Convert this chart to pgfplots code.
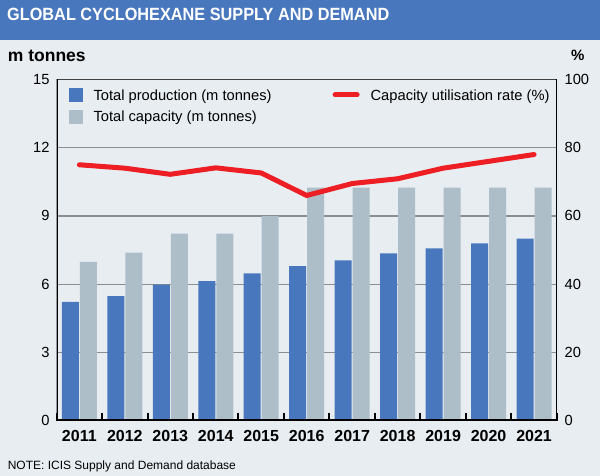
\documentclass[border=0pt]{standalone}
\usepackage{pgfplots}
\pgfplotsset{compat=1.18}
\usepackage{fontspec}
\setmainfont{Liberation Sans}
\definecolor{bgc}{RGB}{232,237,241}
\definecolor{titleblue}{RGB}{73,119,189}
\definecolor{barblue}{RGB}{73,119,189}
\definecolor{bargray}{RGB}{173,190,200}
\definecolor{linered}{RGB}{237,30,36}
\definecolor{gridc}{RGB}{138,142,146}
\begin{document}
\begin{tikzpicture}
\path[use as bounding box] (0pt,0pt) rectangle (600pt,476pt);
\fill[bgc] (0pt,0pt) rectangle (600pt,476pt);
\fill[titleblue] (0pt,436pt) rectangle (600pt,476pt);
\node[anchor=base west, text=white, inner sep=0pt] at (7pt,455pt)
  {\fontsize{17.7}{18}\selectfont\bfseries\scalebox{0.92}[1]{GLOBAL CYCLOHEXANE SUPPLY AND DEMAND}};
\node[anchor=base west, inner sep=0pt] at (7.7pt,414.3pt)
  {\fontsize{17.5}{18}\selectfont\bfseries m tonnes};
\node[anchor=base west, inner sep=0pt] at (571pt,415pt)
  {\fontsize{15}{16}\selectfont\bfseries \%};
\node[anchor=base west, inner sep=0pt] at (7.6pt,6.7pt)
  {\fontsize{12}{13}\selectfont NOTE: ICIS Supply and Demand database};

\begin{axis}[
  at={(56.6pt,55.4pt)}, anchor=south west,
  width=500.2pt, height=341.1pt, scale only axis,
  xmin=-0.5, xmax=10.5, ymin=0, ymax=15,
  axis line style={draw=none},
  xtick={-0.5,0.5,...,10.5},
  x tick label as interval,
  xticklabels={2011,2012,2013,2014,2015,2016,2017,2018,2019,2020,2021},
  xtick pos=bottom,
  xtick style={black, line width=2pt},
  major tick length=7.5pt,
  tick align=inside,
  xticklabel style={font=\fontsize{16}{16}\selectfont\bfseries, yshift=-6pt},
  ytick={0,3,...,15},
  ytick pos=left,
  ytick style={draw=none},
  yticklabel style={font=\fontsize{14.7}{15}\selectfont, xshift=-3.5pt},
  /pgf/number format/assume math mode=true,
  ymajorgrids, grid style={gridc, line width=1.2pt},
  legend cell align=left,
  legend columns=2,
  legend style={draw=none, fill=none, at={(0,1)}, anchor=north west,
    xshift=11.7pt, yshift=-7.9pt, inner sep=0pt,
    font=\fontsize{14.7}{15}\selectfont,
    nodes={inner sep=0pt, text height=12.6pt, text depth=2pt},
    row sep=7.2pt,
    /tikz/every odd column/.append style={column sep=11pt},
    /tikz/every even column/.append style={column sep=61pt}},
]
\addplot[ybar, bar width=17pt, bar shift=-9pt, fill=barblue, draw=none,
  legend image code/.code={\fill[barblue] (0pt,-7pt) rectangle (14pt,7pt);}]
  coordinates {(0,5.22) (1,5.47) (2,5.98) (3,6.13) (4,6.47) (5,6.79) (6,7.05) (7,7.35) (8,7.57) (9,7.79) (10,8.0)};
\addlegendentry{Total production (m tonnes)}
\addlegendimage{legend image code/.code={\draw[linered, line width=5pt, line cap=round] (2.5pt,0pt) -- (24.5pt,0pt);}}
\addlegendentry{Capacity utilisation rate (\%)}
\addplot[ybar, bar width=17pt, bar shift=9pt, fill=bargray, draw=none,
  legend image code/.code={\fill[bargray] (0pt,-7pt) rectangle (14pt,7pt);}]
  coordinates {(0,6.98) (1,7.39) (2,8.22) (3,8.22) (4,8.99) (5,10.25) (6,10.25) (7,10.25) (8,10.25) (9,10.25) (10,10.25)};
\addlegendentry{Total capacity (m tonnes)}
\end{axis}

\begin{axis}[
  at={(56.6pt,55.4pt)}, anchor=south west,
  width=500.2pt, height=341.1pt, scale only axis,
  xmin=-0.5, xmax=10.5, ymin=0, ymax=100,
  axis line style={draw=none},
  hide x axis,
  ytick={0,20,...,100},
  ytick pos=right,
  ytick style={draw=none},
  yticklabel style={font=\fontsize{14.7}{15}\selectfont, xshift=4.3pt},
  /pgf/number format/assume math mode=true,
]
\addplot[linered, line width=5pt, line cap=round, line join=round, mark=none]
  coordinates {(0,75.0) (1,74.0) (2,72.2) (3,74.1) (4,72.6) (5,66.0) (6,69.5) (7,70.9) (8,74.0) (9,76.0) (10,78.0)};
\draw[black!75, line width=1.4pt] (rel axis cs:0,1) -- (rel axis cs:1,1);
\draw[black, line width=2.5pt] (rel axis cs:0,0) -- (rel axis cs:1,0);
\draw[black, line width=2.5pt] (rel axis cs:0,-0.003) -- (rel axis cs:0,1.002);
\draw[black, line width=2.5pt] (rel axis cs:1,-0.003) -- (rel axis cs:1,1.002);
\end{axis}
\end{tikzpicture}
\end{document}
